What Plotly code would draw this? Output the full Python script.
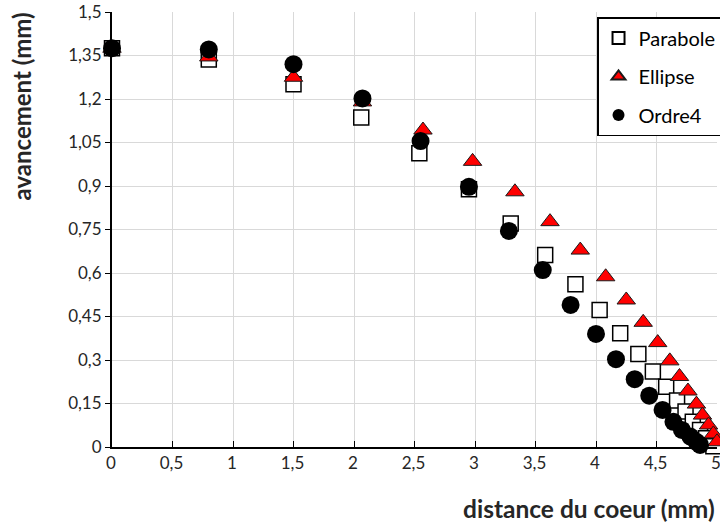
import plotly.graph_objects as go

# Data
parabole_x = [0, 0.8, 1.5, 2.06, 2.54, 2.95, 3.295, 3.58, 3.83, 4.03, 4.20, 4.35, 4.47, 4.58, 4.67, 4.74, 4.80, 4.86, 4.91, 4.97]
parabole_y = [1.375, 1.336, 1.251, 1.136, 1.013, 0.889, 0.771, 0.662, 0.561, 0.472, 0.392, 0.321, 0.260, 0.208, 0.160, 0.122, 0.087, 0.059, 0.030, 0.003]

ellipse_x = [0, 0.8, 1.5, 2.07, 2.57, 2.98, 3.33, 3.62, 3.87, 4.08, 4.25, 4.39, 4.51, 4.61, 4.69, 4.76, 4.83, 4.88, 4.93, 4.97, 5.0]
ellipse_y = [1.375, 1.345, 1.275, 1.19, 1.093, 0.985, 0.880, 0.777, 0.679, 0.587, 0.507, 0.430, 0.360, 0.297, 0.243, 0.193, 0.148, 0.110, 0.076, 0.045, 0.018]

ordre4_x = [0, 0.8, 1.5, 2.07, 2.55, 2.95, 3.28, 3.56, 3.79, 4.0, 4.165, 4.32, 4.44, 4.55, 4.64, 4.71, 4.78, 4.83, 4.86]
ordre4_y = [1.375, 1.371, 1.32, 1.202, 1.055, 0.897, 0.745, 0.610, 0.490, 0.390, 0.303, 0.234, 0.177, 0.128, 0.087, 0.059, 0.036, 0.018, 0.007]

x_ticks = [0, 0.5, 1, 1.5, 2, 2.5, 3, 3.5, 4, 4.5, 5]
x_tick_labels = ["0", "0,5", "1", "1,5", "2", "2,5", "3", "3,5", "4", "4,5", "5"]
y_ticks = [0, 0.15, 0.3, 0.45, 0.6, 0.75, 0.9, 1.05, 1.2, 1.35, 1.5]
y_tick_labels = ["0", "0,15", "0,3", "0,45", "0,6", "0,75", "0,9", "1,05", "1,2", "1,35", "1,5"]

FONT = "Lato"

fig = go.Figure()
fig.add_trace(go.Scatter(
    x=parabole_x, y=parabole_y, mode="markers", name="Parabole", legendgroup="a",
    marker=dict(symbol="square", size=15, color="white", line=dict(color="black", width=1.5)),
    cliponaxis=False))
fig.add_trace(go.Scatter(
    x=ellipse_x, y=ellipse_y, mode="markers", name="Ellipse", legendgroup="b",
    marker=dict(symbol="triangle-up", size=16, color="#ff0000", line=dict(color="#1a1a1a", width=1)),
    cliponaxis=False))
fig.add_trace(go.Scatter(
    x=ordre4_x, y=ordre4_y, mode="markers", name="Ordre4", legendgroup="c",
    marker=dict(symbol="circle", size=18, color="black", line=dict(color="black", width=0)),
    cliponaxis=False))

fig.update_layout(
    width=720, height=522, autosize=False,
    margin=dict(l=112, r=3, t=12, b=75, autoexpand=False),
    paper_bgcolor="white", plot_bgcolor="white",
    font=dict(family=FONT, size=17, color="#262626"),
    showlegend=True,
    legend=dict(
        x=0.8017, y=0.9885, xanchor="left", yanchor="top",
        bgcolor="white", bordercolor="black", borderwidth=1.5,
        font=dict(family=FONT, size=20, color="black"),
        tracegroupgap=9.5, itemsizing="constant",
        entrywidth=95, entrywidthmode="pixels",
    ),
    xaxis=dict(
        range=[0, 5], tickvals=x_ticks, ticktext=x_tick_labels,
        showgrid=True, gridcolor="#d9d9d9", gridwidth=1,
        showline=True, linecolor="black", linewidth=2,
        ticks="inside", ticklen=6, tickcolor="black", tickwidth=1,
        zeroline=False, tickfont=dict(size=17, color="#262626"),
        ticklabeloverflow="allow", automargin=False, ticklabelshift=-1,
    ),
    yaxis=dict(
        range=[0, 1.5], tickvals=y_ticks, ticktext=y_tick_labels,
        showgrid=True, gridcolor="#d9d9d9", gridwidth=1,
        showline=True, linecolor="black", linewidth=2,
        ticks="outside", ticklen=5, tickcolor="black", tickwidth=1,
        zeroline=False, tickfont=dict(size=17, color="#262626"),
        ticklabeloverflow="allow", automargin=False,
    ),
    annotations=[
        dict(text="<b>distance du coeur (mm)</b>", xref="paper", yref="paper",
             x=1.0, y=-0.1425, xanchor="right", yanchor="middle", showarrow=False,
             font=dict(family=FONT, size=24.5, color="#262626")),
        dict(text="<b>avancement (mm)</b>", xref="paper", yref="paper",
             x=-0.1496, y=0.784, xanchor="center", yanchor="middle", textangle=-90, showarrow=False,
             font=dict(family=FONT, size=24, color="#262626")),
    ],
)

fig.write_html(
    "out.html",
    config={"displayModeBar": False},
    post_script="document.body.style.margin='0';document.documentElement.style.overflow='hidden';document.body.style.overflow='hidden';",
)
